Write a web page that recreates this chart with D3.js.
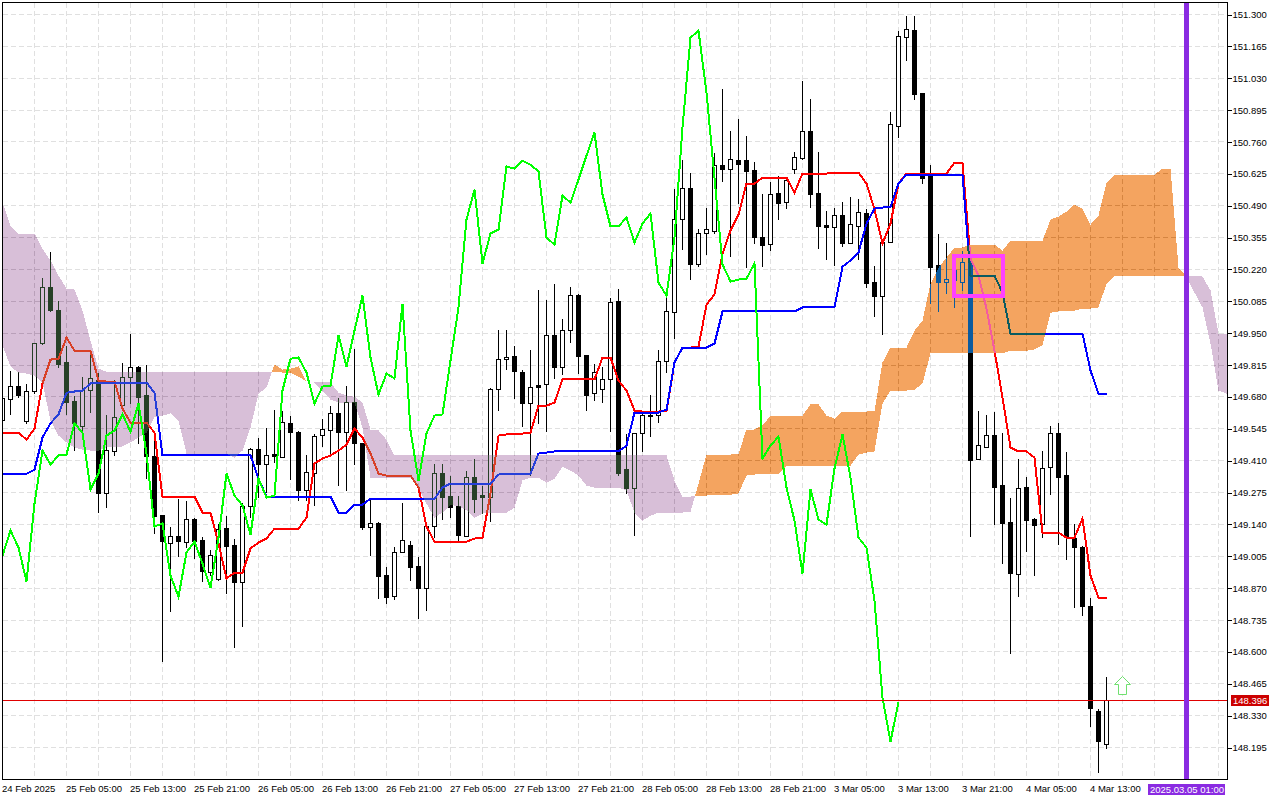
<!DOCTYPE html>
<html>
<head>
<meta charset="utf-8">
<title>USDJPY H1 ichimoku</title>
<script src="https://d3js.org/d3.v7.min.js"></script>
<style>
    html, body { margin: 0; padding: 0; background: #fff; }
    svg { display: block; }
    text { font-family: "Liberation Sans", sans-serif; font-size: 9.5px; fill: #000; }
</style>
</head>
<body>
<svg class="chart" width="1280" height="800"></svg>
<script>
// H1 candles, one entry per bar
var opens = [
149.580,149.669,149.724,149.576,149.703,149.906,150.143,150.046,149.826,149.661,
149.555,149.707,149.749,149.271,149.449,149.643,149.762,149.804,149.686,149.427,
149.177,149.059,149.088,149.063,149.161,149.072,148.936,148.906,149.122,149.050,
148.894,149.216,149.457,149.394,149.436,149.423,149.568,149.529,149.283,149.355,
149.516,149.538,149.610,149.529,149.656,149.482,149.127,149.144,148.923,148.834,
149.021,149.050,148.961,148.868,149.131,149.355,149.258,149.216,149.088,149.338,
149.262,149.254,149.711,149.838,149.851,149.783,149.652,149.728,149.732,149.940,
149.804,149.961,150.109,149.855,149.694,149.711,149.754,150.084,149.372,149.292,
149.525,149.601,149.601,149.830,150.037,150.431,150.563,150.241,150.372,150.380,
150.660,150.643,150.681,150.681,150.639,150.355,150.325,150.541,150.503,150.643,
150.690,150.804,150.541,150.406,150.397,150.448,150.330,150.402,150.457,150.164,
150.105,150.334,150.825,151.202,151.232,150.965,150.618,150.236,150.164,150.173,
150.164,150.249,149.415,149.466,149.516,149.304,149.148,148.928,149.296,149.161,
149.139,149.381,149.525,149.347,149.080,149.042,148.792,148.347,148.207];
var highs = [
149.699,149.792,149.787,149.737,149.910,150.186,150.296,150.088,149.898,149.686,
149.766,149.863,149.783,149.606,149.754,149.826,149.948,149.813,149.817,149.538,
149.177,149.131,149.249,149.241,149.169,149.088,149.033,149.144,149.177,149.080,
149.232,149.466,149.508,149.550,149.626,149.622,149.601,149.538,149.436,149.525,
149.588,149.643,149.677,149.728,149.885,149.482,149.249,149.152,148.961,149.046,
149.232,149.072,149.004,149.135,149.398,149.398,149.347,149.262,149.368,149.419,
149.304,149.720,149.965,149.965,149.898,149.796,149.881,150.135,150.092,150.160,
150.012,150.148,150.118,149.859,149.821,149.809,150.101,150.139,149.525,149.525,
149.614,149.690,149.881,150.105,150.563,150.685,150.630,150.393,150.482,150.715,
150.986,150.808,150.859,150.787,150.677,150.541,150.592,150.618,150.609,150.719,
151.020,150.944,150.719,150.469,150.482,150.508,150.529,150.520,150.478,150.236,
150.342,150.889,151.232,151.295,151.295,150.969,150.664,150.372,150.334,150.266,
150.300,150.300,149.622,149.606,149.618,149.529,149.254,149.419,149.343,149.169,
149.453,149.559,149.571,149.449,149.144,149.050,148.830,148.360,148.495];
var lows = [
149.559,149.606,149.677,149.568,149.694,149.902,150.042,149.804,149.606,149.453,
149.538,149.614,149.190,149.211,149.432,149.631,149.652,149.482,149.334,149.101,
148.559,148.771,149.004,149.042,148.995,148.898,148.923,148.902,148.847,148.618,
148.707,149.169,149.254,149.275,149.402,149.423,149.330,149.241,149.241,149.220,
149.470,149.440,149.304,149.283,149.394,149.118,149.008,148.826,148.805,148.822,
149.021,148.902,148.741,148.775,149.084,149.161,149.169,149.072,149.088,149.190,
149.186,149.152,149.622,149.796,149.673,149.555,149.347,149.568,149.533,149.758,
149.775,149.910,149.779,149.622,149.665,149.656,149.533,149.347,149.271,149.093,
149.449,149.512,149.571,149.783,149.927,150.304,150.177,150.232,150.283,150.372,
150.592,150.275,150.499,150.228,150.330,150.232,150.300,150.431,150.478,150.626,
150.685,150.482,150.308,150.262,150.236,150.317,150.330,150.262,150.143,150.020,
149.944,150.334,150.779,151.105,150.940,150.584,150.075,150.042,150.118,150.059,
150.131,149.088,149.415,149.466,149.139,148.974,148.593,148.834,149.025,148.923,
149.084,149.266,149.055,148.991,148.788,148.754,148.284,148.089,148.190];
var closes = [
149.673,149.724,149.686,149.703,149.906,150.143,150.046,149.817,149.656,149.568,
149.707,149.758,149.271,149.453,149.593,149.762,149.804,149.677,149.427,149.173,
149.067,149.088,149.067,149.161,149.067,148.940,149.008,149.118,149.046,148.894,
149.216,149.457,149.394,149.432,149.427,149.571,149.529,149.283,149.360,149.512,
149.542,149.610,149.529,149.656,149.482,149.127,149.144,148.919,148.830,149.021,
149.072,148.957,148.868,149.131,149.355,149.254,149.211,149.093,149.338,149.245,
149.254,149.711,149.838,149.847,149.787,149.652,149.720,149.720,149.940,149.804,
149.961,150.109,149.851,149.686,149.783,149.754,150.080,149.355,149.292,149.525,
149.601,149.597,149.830,150.042,150.431,150.563,150.241,150.372,150.389,150.660,
150.643,150.685,150.664,150.635,150.355,150.321,150.537,150.499,150.596,150.694,
150.804,150.537,150.402,150.397,150.448,150.330,150.410,150.461,150.160,150.105,
150.334,150.834,151.207,151.236,150.961,150.605,150.228,150.164,150.177,150.215,
150.249,149.410,149.474,149.516,149.296,149.144,148.932,149.292,149.156,149.135,
149.377,149.525,149.338,149.084,149.042,148.792,148.360,148.220,148.394];

// ichimoku lines
var tenkan = [
149.529,149.529,149.529,149.499,149.546,149.737,149.838,149.842,149.931,149.876,
149.876,149.876,149.749,149.745,149.745,149.631,149.571,149.571,149.571,149.529,
149.258,149.258,149.258,149.258,149.258,149.190,149.190,149.059,148.911,148.936,
148.936,149.038,149.063,149.080,149.122,149.122,149.122,149.122,149.169,149.398,
149.419,149.432,149.453,149.478,149.546,149.508,149.440,149.355,149.347,149.347,
149.347,149.347,149.296,149.131,149.067,149.067,149.067,149.067,149.067,149.080,
149.084,149.271,149.516,149.521,149.521,149.525,149.529,149.643,149.643,149.656,
149.754,149.754,149.754,149.754,149.754,149.847,149.847,149.749,149.707,149.622,
149.618,149.618,149.618,149.622,149.826,149.889,149.889,149.893,150.071,150.114,
150.287,150.385,150.452,150.584,150.584,150.609,150.609,150.609,150.609,150.546,
150.626,150.626,150.626,150.626,150.630,150.630,150.630,150.630,150.584,150.474,
150.330,150.414,150.584,150.626,150.626,150.626,150.626,150.626,150.626,150.673,
150.673,150.266,150.194,150.054,149.876,149.677,149.466,149.449,149.449,149.423,
149.105,149.105,149.105,149.084,149.084,149.165,148.923,148.830,148.830];
var kijun = [
149.355,149.355,149.355,149.355,149.372,149.508,149.568,149.606,149.698,149.703,
149.707,149.737,149.741,149.741,149.741,149.741,149.741,149.741,149.741,149.698,
149.432,149.432,149.432,149.432,149.432,149.432,149.432,149.432,149.432,149.432,
149.432,149.432,149.334,149.258,149.258,149.258,149.258,149.258,149.258,149.258,
149.258,149.258,149.190,149.190,149.224,149.224,149.249,149.249,149.249,149.249,
149.249,149.249,149.249,149.249,149.249,149.296,149.313,149.313,149.313,149.313,
149.313,149.313,149.351,149.355,149.355,149.355,149.355,149.440,149.444,149.449,
149.449,149.449,149.449,149.449,149.449,149.449,149.449,149.449,149.474,149.614,
149.614,149.614,149.614,149.626,149.826,149.889,149.889,149.889,149.889,149.906,
150.042,150.042,150.042,150.042,150.042,150.042,150.042,150.042,150.042,150.042,
150.059,150.059,150.059,150.059,150.059,150.232,150.258,150.292,150.414,150.478,
150.482,150.486,150.584,150.622,150.622,150.622,150.622,150.622,150.622,150.622,
150.622,150.194,150.194,150.194,150.194,150.122,149.948,149.948,149.948,149.948,
149.948,149.948,149.948,149.948,149.948,149.948,149.792,149.694,149.694];
var chikou = [
149.008,149.114,149.042,148.898,149.228,149.453,149.394,149.432,149.436,149.568,
149.529,149.288,149.355,149.516,149.538,149.606,149.533,149.652,149.440,149.131,
149.144,148.923,148.834,149.021,149.067,148.974,148.872,149.084,149.355,149.262,
149.220,149.097,149.334,149.254,149.262,149.707,149.842,149.847,149.783,149.652,
149.724,149.728,149.940,149.809,149.961,150.109,149.847,149.690,149.779,149.758,
150.075,149.538,149.326,149.525,149.601,149.606,149.834,150.059,150.431,150.558,
150.245,150.372,150.389,150.656,150.647,150.681,150.664,150.635,150.355,150.325,
150.533,150.503,150.601,150.702,150.800,150.537,150.402,150.402,150.440,150.334,
150.414,150.457,150.164,150.109,150.355,150.821,151.202,151.232,150.969,150.609,
150.241,150.169,150.177,150.181,150.245,149.419,149.474,149.512,149.296,149.156,
148.932,149.288,149.161,149.139,149.377,149.521,149.338,149.084,149.042,148.817,
148.406,148.220,148.389];
var spanA = [
149.898,149.809,149.783,149.779,149.770,149.741,149.580,149.516,149.487,149.466,
149.457,149.453,149.453,149.466,149.466,149.470,149.487,149.508,149.529,149.593,
149.601,149.610,149.580,149.440,149.440,149.440,149.440,149.440,149.440,149.423,
149.453,149.550,149.694,149.720,149.817,149.796,149.800,149.809,149.745,149.741,
149.707,149.669,149.656,149.656,149.656,149.550,149.338,149.338,149.338,149.338,
149.338,149.338,149.292,149.228,149.169,149.190,149.224,149.216,149.199,149.169,
149.186,149.190,149.190,149.190,149.211,149.326,149.338,149.338,149.317,149.334,
149.385,149.368,149.347,149.304,149.296,149.296,149.296,149.296,149.283,149.190,
149.156,149.177,149.190,149.190,149.190,149.190,149.194,149.313,149.436,149.436,
149.436,149.436,149.440,149.542,149.542,149.559,149.601,149.601,149.601,149.601,
149.601,149.648,149.648,149.601,149.588,149.618,149.618,149.618,149.618,149.622,
149.826,149.889,149.889,149.889,149.961,150.003,150.160,150.228,150.270,150.313,
150.313,150.325,150.325,150.325,150.325,150.300,150.342,150.342,150.342,150.342,
150.342,150.431,150.444,150.465,150.495,150.478,150.410,150.448,150.588,150.622,
150.622,150.622,150.622,150.622,150.622,150.647,150.647,150.228,150.190,150.122,
150.059,149.906,149.707,149.694];
var spanB = [
150.503,150.406,150.372,150.372,150.372,150.308,150.258,150.194,150.139,150.135,
150.046,149.919,149.800,149.787,149.787,149.787,149.787,149.787,149.787,149.787,
149.787,149.787,149.787,149.787,149.787,149.787,149.787,149.787,149.787,149.787,
149.787,149.787,149.787,149.787,149.787,149.783,149.783,149.766,149.745,149.745,
149.745,149.741,149.698,149.686,149.681,149.656,149.542,149.538,149.499,149.432,
149.432,149.432,149.432,149.432,149.432,149.432,149.432,149.432,149.432,149.432,
149.432,149.432,149.432,149.432,149.432,149.432,149.432,149.432,149.432,149.432,
149.432,149.432,149.432,149.432,149.432,149.432,149.432,149.432,149.432,149.432,
149.432,149.432,149.432,149.432,149.326,149.258,149.258,149.262,149.262,149.266,
149.266,149.266,149.271,149.347,149.351,149.355,149.355,149.355,149.389,149.389,
149.389,149.389,149.389,149.389,149.389,149.389,149.389,149.436,149.444,149.449,
149.652,149.707,149.707,149.707,149.711,149.737,149.864,149.864,149.864,149.864,
149.864,149.864,149.864,149.864,149.864,149.864,149.876,149.876,149.876,149.881,
149.898,150.037,150.042,150.042,150.046,150.054,150.054,150.059,150.160,150.194,
150.194,150.194,150.194,150.194,150.194,150.194,150.194,150.194,150.194,150.194,
150.190,150.131,149.948,149.948];

var priceTicks = [151.300,151.165,151.030,150.895,150.760,150.625,150.490,150.355,150.220,150.085,149.950,149.815,
    149.680,149.545,149.410,149.275,149.140,149.005,148.870,148.735,148.600,148.465,148.330,148.195];
var timeLabels = ["24 Feb 2025","25 Feb 05:00","25 Feb 13:00","25 Feb 21:00","26 Feb 05:00","26 Feb 13:00","26 Feb 21:00",
    "27 Feb 05:00","27 Feb 13:00","27 Feb 21:00","28 Feb 05:00","28 Feb 13:00","28 Feb 21:00","3 Mar 05:00","3 Mar 13:00",
    "3 Mar 21:00","4 Mar 05:00","4 Mar 13:00"];

var bidPrice = 148.396;
var cursorBar = 148, cursorLabel = "2025.03.05 01:00";
var boxBars = [119, 125], boxPrices = [150.275, 150.109];
var arrowBar = 140, arrowPrice = 148.495;

var svg = d3.select(".chart");
var x = d3.scaleLinear().domain([0, 153]).range([2.5, 1226.5]);
var y = d3.scaleLinear().domain([148.195, 151.300]).range([747.5, 14.5]);
var py = function(v){ return Math.round(y(v) - 0.5) + 0.5; };

svg.append("rect").attr("width", 1280).attr("height", 800).attr("fill", "#fff");
svg.append("clipPath").attr("id", "plotClip").append("rect")
    .attr("x", 3).attr("y", 3).attr("width", 1224).attr("height", 776);

var plot = svg.append("g").attr("clip-path", "url(#plotClip)");
plot.append("rect").attr("x", 0).attr("y", 0).attr("width", 1228).attr("height", 780).attr("fill", "#fff");

//grid
var vBars = d3.range(4, 154, 4);
plot.selectAll(".gv").data(vBars).enter().append("line")
    .attr("x1", function(d){ return x(d); }).attr("x2", function(d){ return x(d); })
    .attr("y1", 3).attr("y2", 779)
    .attr("stroke", "#e0e0e0").attr("stroke-dasharray", "5,3").attr("shape-rendering", "crispEdges");
plot.selectAll(".gh").data(priceTicks).enter().append("line")
    .attr("x1", 3).attr("x2", 1227)
    .attr("y1", py).attr("y2", py)
    .attr("stroke", "#e0e0e0").attr("stroke-dasharray", "5,3").attr("shape-rendering", "crispEdges");

//candles
var candles = opens.map(function(o, i){ return {i: i, o: o, h: highs[i], l: lows[i], c: closes[i]}; });
var g = plot.selectAll(".candle").data(candles).enter().append("g")
    .attr("class", "candle").attr("shape-rendering", "crispEdges");
g.append("line")
    .attr("x1", function(d){ return x(d.i); }).attr("x2", function(d){ return x(d.i); })
    .attr("y1", function(d){ return py(d.h); }).attr("y2", function(d){ return py(d.l); })
    .attr("stroke", "#000");
g.append("rect")
    .attr("x", function(d){ return x(d.i) - 2; })
    .attr("y", function(d){ return py(Math.max(d.o, d.c)); })
    .attr("width", 4)
    .attr("height", function(d){ return py(Math.min(d.o, d.c)) - py(Math.max(d.o, d.c)); })
    .attr("fill", function(d){ return d.c >= d.o ? "#fff" : "#000"; })
    .attr("stroke", "#000");

//conversion and base line
var lineFor = function(){ return d3.line().x(function(d, i){ return x(i); }).y(function(d){ return y(d); }); };
function drawLine(data, color){
    plot.append("path").attr("d", lineFor()(data))
        .attr("fill", "none").attr("stroke", color).attr("stroke-width", 2)
        .attr("shape-rendering", "crispEdges");
}
drawLine(tenkan, "#ff0000");
drawLine(kijun, "#0000ff");

//cloud: mt5 draws the fill as xor, difference with the inverse colour gives the same
var cloudPts = [];
spanA.forEach(function(a, i){
    var b = spanB[i];
    cloudPts.push({i: i, a: a, b: b});
    if(i < spanA.length - 1){
        var d0 = a - b, d1 = spanA[i + 1] - spanB[i + 1];
        if(d0 * d1 < 0){
            var t = d0 / (d0 - d1), v = a + (spanA[i + 1] - a) * t;
            cloudPts.push({i: i + t, a: v, b: v});
        }
    }
});
var cloudArea = d3.area()
    .x(function(d){ return x(d.i); })
    .y0(function(d){ return y(d.a); })
    .y1(function(d){ return y(d.b); });
plot.append("path")
    .attr("d", cloudArea.defined(function(d){ return d.a <= d.b; })(cloudPts))
    .attr("fill", "#274027").style("mix-blend-mode", "difference").attr("shape-rendering", "crispEdges");
plot.append("path")
    .attr("d", cloudArea.defined(function(d){ return d.a >= d.b; })(cloudPts))
    .attr("fill", "#0b5b9f").style("mix-blend-mode", "difference").attr("shape-rendering", "crispEdges");

drawLine(chikou, "#00ff00");

//bid line
plot.append("line").attr("x1", 3).attr("x2", 1227).attr("y1", py(bidPrice)).attr("y2", py(bidPrice))
    .attr("stroke", "#e00000").attr("shape-rendering", "crispEdges");

//vertical period separator
plot.append("line").attr("x1", x(cursorBar)).attr("x2", x(cursorBar)).attr("y1", 3).attr("y2", 779)
    .attr("stroke", "#8a2be2").attr("stroke-width", 5).attr("shape-rendering", "crispEdges");

//marked zone
plot.append("rect")
    .attr("x", x(boxBars[0]) - 0.5).attr("y", py(boxPrices[0]) - 0.5)
    .attr("width", x(boxBars[1]) - x(boxBars[0]) + 1)
    .attr("height", py(boxPrices[1]) - py(boxPrices[0]) + 1)
    .attr("fill", "none").attr("stroke", "#ff40ff").attr("stroke-width", 4);

//arrow
var ax = x(arrowBar), ay = py(arrowPrice);
plot.append("path")
    .attr("d", d3.line()([[ax, ay], [ax + 8, ay + 8], [ax + 4, ay + 8], [ax + 4, ay + 18], [ax - 4, ay + 18], [ax - 4, ay + 8], [ax - 8, ay + 8]]) + "Z")
    .attr("fill", "#fff").attr("stroke", "#70e070").attr("stroke-width", 1);

//frame and price axis
svg.append("rect").attr("x", 2.5).attr("y", 2.5).attr("width", 1225).attr("height", 777)
    .attr("fill", "none").attr("stroke", "#000").attr("shape-rendering", "crispEdges");

var yAxis = d3.axisRight(y).tickValues(priceTicks).tickFormat(d3.format(".3f")).tickSize(4).tickSizeOuter(0).tickPadding(1);
var axisG = svg.append("g").attr("transform", "translate(1227.5,0)").call(yAxis);
axisG.select(".domain").remove();
axisG.selectAll("line").attr("stroke", "#000").attr("shape-rendering", "crispEdges");
axisG.selectAll("text").style("font-family", '"Liberation Sans", sans-serif').style("font-size", "9.5px").style("fill", "#000");

//current price tag
svg.append("rect").attr("x", 1231).attr("y", py(bidPrice) - 5.5).attr("width", 38).attr("height", 11).attr("fill", "#cc0000");
svg.append("text").attr("x", 1233).attr("y", py(bidPrice) + 3.5).style("fill", "#fff").text(d3.format(".3f")(bidPrice));

//time labels
svg.selectAll(".tl").data(timeLabels).enter().append("text")
    .attr("x", function(d, i){ return x(i * 8) - 0.5; })
    .attr("y", 792)
    .text(function(d){ return d; });

//cursor time tag
svg.append("rect").attr("x", 1148).attr("y", 784).attr("width", 77).attr("height", 11).attr("fill", "#8a2be2");
svg.append("text").attr("x", 1150).attr("y", 793).style("fill", "#fff").text(cursorLabel);
</script>
</body>
</html>
